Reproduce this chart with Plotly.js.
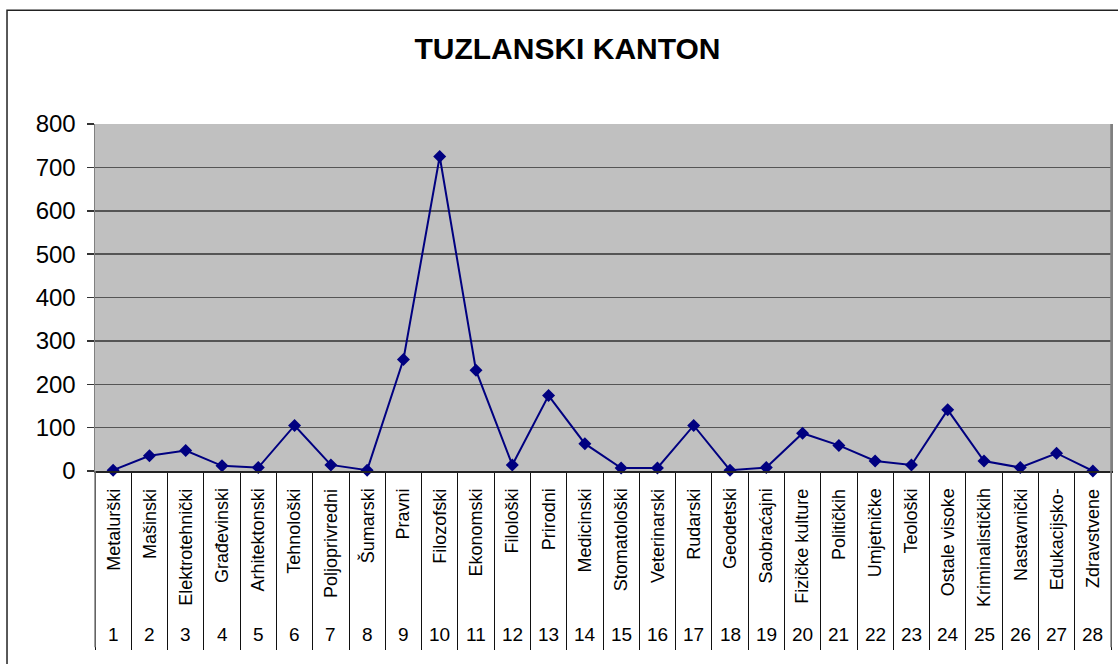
<!DOCTYPE html>
<html>
<head>
<meta charset="utf-8">
<script src="https://cdn.plot.ly/plotly-3.0.1.min.js"></script>
<style>html,body{margin:0;padding:0;background:#fff;overflow:hidden;}#chart{width:1118px;height:664px;}</style>
</head>
<body>
<div id="chart"></div>
<script>
const chartTitle = "TUZLANSKI KANTON";
const categories = ["Metalurški","Mašinski","Elektrotehnički","Građevinski","Arhitektonski","Tehnološki","Poljoprivredni","Šumarski","Pravni","Filozofski","Ekonomski","Filološki","Prirodni","Medicinski","Stomatološki","Veterinarski","Rudarski","Geodetski","Saobraćajni","Fizičke kulture","Političkih","Umjetničke","Teološki","Ostale visoke","Kriminalističkih","Nastavnički","Edukacijsko-","Zdravstvene"];
const numbers = ["1","2","3","4","5","6","7","8","9","10","11","12","13","14","15","16","17","18","19","20","21","22","23","24","25","26","27","28"];
const values = [2,35,47,12,8,105,14,2,257,725,232,14,174,63,7,7,105,2,8,87,59,23,14,141,23,8,41,0];
const yTicks = [0,100,200,300,400,500,600,700,800];

const FONT = "Liberation Sans, Arial, sans-serif";
const xs = numbers.map(n => Number(n));
const boundaries = [];
for (let i = 0; i <= categories.length; i++) boundaries.push(i + 0.5);

const annotations = [];
categories.forEach((c, i) => {
  annotations.push({x: xs[i], y: -0.045, xref: 'x', yref: 'paper', text: c, showarrow: false,
    textangle: -90, xanchor: 'center', yanchor: 'top', font: {family: FONT, size: 18, color: '#000'}});
  annotations.push({x: xs[i], y: -0.472, xref: 'x', yref: 'paper', text: numbers[i], showarrow: false,
    xanchor: 'center', yanchor: 'middle', font: {family: FONT, size: 19, color: '#000'}});
});

const trace = {
  x: xs, y: values, type: 'scatter', mode: 'lines+markers',
  line: {color: '#000080', width: 2},
  marker: {symbol: 'diamond', size: 10, color: '#000080'},
  hoverinfo: 'skip', cliponaxis: false
};

const layout = {
  width: 1118, height: 664,
  margin: {l: 95, r: 7, t: 124, b: 193, pad: 0},
  paper_bgcolor: '#ffffff', plot_bgcolor: '#c0c0c0',
  showlegend: false,
  title: {text: '<b>' + chartTitle + '</b>', font: {family: FONT, size: 30, color: '#000'},
    xref: 'container', yref: 'container', x: 0.5076, y: 0.927, xanchor: 'center', yanchor: 'middle'},
  xaxis: {range: [0.5, 28.5], tickmode: 'array', tickvals: boundaries, ticktext: boundaries.map(() => ''),
    ticks: 'outside', ticklen: 177, tickwidth: 1, tickcolor: '#111', showgrid: false, zeroline: false,
    showline: true, linecolor: '#222', linewidth: 1.5, fixedrange: true},
  yaxis: {range: [0, 800], tickmode: 'array', tickvals: yTicks, ticktext: yTicks.map(String),
    ticks: 'outside', ticklen: 7, tickcolor: '#333', tickwidth: 1.5, ticklabelstandoff: 6,
    showgrid: true, gridcolor: '#555555', gridwidth: 1.5, zeroline: false,
    showline: true, linecolor: '#808080', linewidth: 1.5, mirror: true,
    tickfont: {family: FONT, size: 24, color: '#000'}, fixedrange: true},
  annotations: annotations,
  shapes: [
    {type: 'line', xref: 'paper', yref: 'paper', x0: 0, x1: 0, y0: -0.508, y1: 0, line: {color: '#808080', width: 1.5}},
    {type: 'line', xref: 'paper', yref: 'paper', x0: 1, x1: 1, y0: -0.508, y1: 1, line: {color: '#808080', width: 1.5}},
    {type: 'rect', xref: 'paper', yref: 'paper', x0: -0.0866, x1: 1.3, y0: -0.9, y1: 1.328, line: {color: '#222', width: 1.5}, fillcolor: 'rgba(0,0,0,0)', layer: 'below'}
  ]
};

Plotly.newPlot('chart', [trace], layout, {displayModeBar: false, staticPlot: true});
</script>
</body>
</html>
